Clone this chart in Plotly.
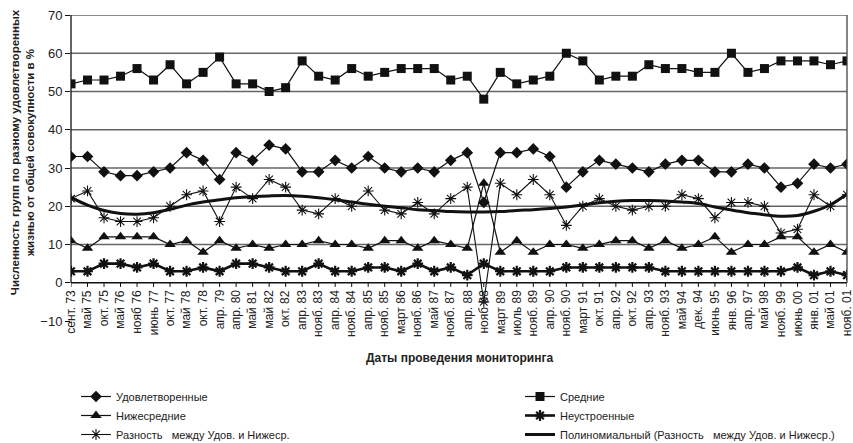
import plotly.graph_objects as go

cats = ['сент. 73', 'май 75', 'окт. 75', 'май 76', 'нояб 76', 'июнь 77', 'окт. 77', 'май 78',
        'окт. 78', 'апр. 79', 'апр. 80', 'май 81', 'май 82', 'окт. 82', 'апр. 83', 'нояб. 83',
        'апр. 84', 'нояб. 84', 'апр. 85', 'нояб. 85', 'март 86', 'нояб. 86', 'май 87', 'нояб. 87',
        'апр. 88', 'нояб 88', 'март 89', 'июль 89', 'нояб. 89', 'апр. 90', 'нояб. 90', 'март 91',
        'окт. 91', 'апр. 92', 'окт. 92', 'апр. 93', 'нояб. 93', 'май 94', 'дек. 94', 'июнь 95',
        'янв. 96', 'апр. 97', 'май 98', 'нояб. 99', 'июнь 00', 'янв. 01', 'май 01', 'нояб. 01']

udovl = [33, 33, 29, 28, 28, 29, 30, 34, 32, 27, 34, 32, 36, 35, 29, 29,
         32, 30, 33, 30, 29, 30, 29, 32, 34, 21, 34, 34, 35, 33, 25, 29,
         32, 31, 30, 29, 31, 32, 32, 29, 29, 31, 30, 25, 26, 31, 30, 31]

srednie = [52, 53, 53, 54, 56, 53, 57, 52, 55, 59, 52, 52, 50, 51, 58, 54,
           53, 56, 54, 55, 56, 56, 56, 53, 54, 48, 55, 52, 53, 54, 60, 58,
           53, 54, 54, 57, 56, 56, 55, 55, 60, 55, 56, 58, 58, 58, 57, 58]

nizhe = [11, 9, 12, 12, 12, 12, 10, 11, 8, 11, 9, 10, 9, 10, 10, 11,
         10, 10, 9, 11, 11, 9, 11, 10, 9, 26, 8, 11, 8, 10, 10, 9,
         10, 11, 11, 9, 11, 9, 10, 12, 8, 10, 10, 12, 12, 8, 10, 8]

neustr = [3, 3, 5, 5, 4, 5, 3, 3, 4, 3, 5, 5, 4, 3, 3, 5,
          3, 3, 4, 4, 3, 5, 3, 4, 2, 5, 3, 3, 3, 3, 4, 4,
          4, 4, 4, 4, 3, 3, 3, 3, 3, 3, 3, 3, 4, 2, 3, 2]

raznost = [22, 24, 17, 16, 16, 17, 20, 23, 24, 16, 25, 22, 27, 25, 19, 18,
           22, 20, 24, 19, 18, 21, 18, 22, 25, -5, 26, 23, 27, 23, 15, 20,
           22, 20, 19, 20, 20, 23, 22, 17, 21, 21, 20, 13, 14, 23, 20, 23]

trend = [22.3, 20.3, 18.9, 18.1, 17.9, 18.3, 19.2, 20.3, 21.1, 21.7, 22.2, 22.5, 22.7, 22.8, 22.6, 22.2,
         21.7, 21.1, 20.5, 20.0, 19.6, 19.1, 18.9, 18.6, 18.5, 18.5, 18.6, 18.9, 19.1, 19.4, 19.8, 20.3,
         20.9, 21.3, 21.5, 21.5, 21.4, 21.1, 20.7, 19.8, 19.0, 18.3, 17.8, 17.4, 17.6, 18.7, 20.4, 23.2]

yticks = [-10, 0, 10, 20, 30, 40, 50, 60, 70]
gridvals = [10, 20, 30, 40, 50, 60, 70]

names = ['Удовлетворенные', 'Средние', 'Нижесредние', 'Неустроенные',
         'Разность   между Удов. и Нижеср.', 'Полиномиальный (Разность   между Удов. и Нижеср.)']

BLK = '#111111'
FONT = 'Liberation Sans, Arial, sans-serif'

fig = go.Figure()

fig.add_trace(go.Scatter(x=cats, y=udovl, name=names[0], mode='lines+markers', legend='legend',
                         line=dict(color=BLK, width=1.2),
                         marker=dict(symbol='diamond', size=9, color=BLK)))
fig.add_trace(go.Scatter(x=cats, y=srednie, name=names[1], mode='lines+markers', legend='legend2',
                         line=dict(color=BLK, width=1.2),
                         marker=dict(symbol='square', size=9, color=BLK)))
fig.add_trace(go.Scatter(x=cats, y=nizhe, name=names[2], mode='lines+markers', legend='legend',
                         line=dict(color=BLK, width=1.2),
                         marker=dict(symbol='triangle-up', size=10, color=BLK)))
fig.add_trace(go.Scatter(x=cats, y=neustr, name=names[3], mode='lines+markers', legend='legend2',
                         line=dict(color=BLK, width=2.6),
                         marker=dict(symbol='asterisk-open', size=9, color=BLK,
                                     line=dict(width=2.2, color=BLK))))
fig.add_trace(go.Scatter(x=cats, y=raznost, name=names[4], mode='lines+markers', legend='legend',
                         line=dict(color=BLK, width=1.1),
                         marker=dict(symbol='asterisk-open', size=9, color=BLK,
                                     line=dict(width=1.1, color=BLK))))
fig.add_trace(go.Scatter(x=cats, y=trend, name=names[5], mode='lines', legend='legend2',
                         line=dict(color=BLK, width=3, shape='spline', smoothing=1.0)))

# category-axis tick marks hanging below the zero line
fig.add_trace(go.Scatter(x=cats, y=[0] * len(cats), mode='markers', showlegend=False,
                         hoverinfo='skip', marker=dict(size=1, color='rgba(0,0,0,0)'),
                         error_y=dict(type='data', symmetric=False, array=[0] * len(cats),
                                      arrayminus=[1.1] * len(cats), width=0,
                                      color=BLK, thickness=1)))

for g in gridvals:
    fig.add_hline(y=g, line=dict(color='#666666', width=1.5), layer='below')
fig.add_hline(y=0, line=dict(color=BLK, width=1.3), layer='below')
fig.add_shape(type='line', xref='x domain', yref='y', x0=0, x1=0, y0=0, y1=70,
              line=dict(color=BLK, width=1.3))
fig.add_shape(type='line', xref='x domain', yref='y', x0=1, x1=1, y0=0, y1=70,
              line=dict(color='#444444', width=1.3))

for c in cats:
    fig.add_annotation(x=c, y=0, xref='x', yref='y', text=c, showarrow=False,
                       textangle=-90, xanchor='center', yanchor='top', yshift=-5,
                       font=dict(family=FONT, size=12, color='#222222'))

fig.add_annotation(xref='paper', yref='paper', x=0.5, y=-0.12, text='<b>Даты проведения мониторинга</b>',
                   showarrow=False, xanchor='center', yanchor='middle',
                   font=dict(family=FONT, size=12, color='#222222'))
fig.add_annotation(xref='paper', yref='paper', x=-0.063, y=0.552,
                   text='<b>Численность групп по разному удовлетворенных<br>жизнью от общей совокупности в %</b>',
                   showarrow=False, textangle=-90, xanchor='center', yanchor='middle',
                   font=dict(family=FONT, size=11.5, color='#222222'))

fig.update_xaxes(type='category', range=[0, len(cats) - 1], showticklabels=False,
                 showgrid=False, zeroline=False, showline=False, ticks='')
fig.update_yaxes(range=[-10, 70], tickvals=yticks, ticktext=[str(v).replace('-', '\u2212') for v in yticks],
                 showgrid=False, zeroline=False, showline=False,
                 ticks='outside', ticklen=5, tickcolor=BLK,
                 tickfont=dict(family=FONT, size=13, color='#222222'))

leg_common = dict(orientation='v', xref='container', yref='container', xanchor='left', yanchor='top',
                  font=dict(family=FONT, size=11, color='#222222'), tracegroupgap=0,
                  itemwidth=30, bgcolor='rgba(0,0,0,0)')

fig.update_layout(
    width=853, height=443,
    margin=dict(l=71, r=6, t=15, b=122, autoexpand=False),
    paper_bgcolor='white', plot_bgcolor='white',
    showlegend=True,
    legend=dict(x=76 / 853, y=1 - 382 / 443, **leg_common),
    legend2=dict(x=520 / 853, y=1 - 382 / 443, **leg_common),
)

fig.write_html('out.html', config={'displayModeBar': False},
               post_script="document.body.style.margin='0px';")
